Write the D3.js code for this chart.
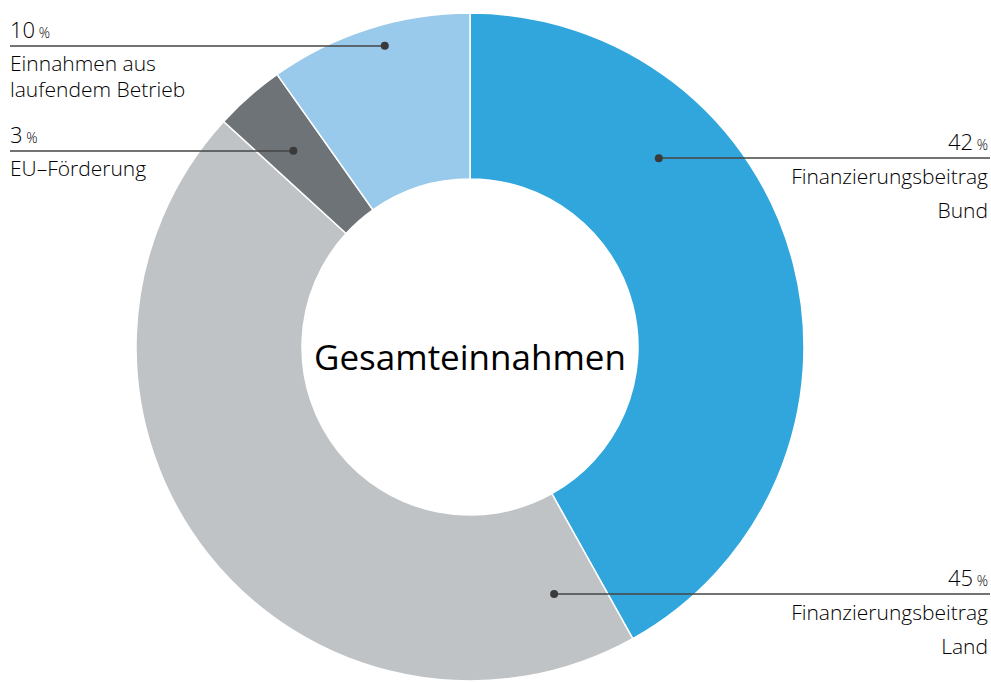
<!DOCTYPE html>
<html>
<head>
<meta charset="utf-8">
<script src="https://cdn.jsdelivr.net/npm/d3@7"></script>
<style>
  body { margin: 0; background: #fff; }
  svg text { font-family: "Open Sans", "Segoe UI", sans-serif; font-weight: 300; fill: #000; }
</style>
</head>
<body>
<svg width="991" height="682"></svg>
<script>
const categories = ['Finanzierungsbeitrag Bund', 'Finanzierungsbeitrag Land', 'EU–Förderung', 'Einnahmen aus laufendem Betrieb'];
// slice shares; labels show them rounded
const values = [41.9, 44.9, 3.4, 9.8];
const colors = ['#31a6dc', '#c0c3c5', '#6e7377', '#9acaeb'];
const labelLines = [['Finanzierungsbeitrag', 'Bund'], ['Finanzierungsbeitrag', 'Land'], ['EU–Förderung'], ['Einnahmen aus', 'laufendem Betrieb']];

// where the leader dot sits (degrees from top, radius) and which side the text goes
const anchors = [
  { angle: 45, r: 267, side: 'right', y: 158 },
  { angle: 161.2, r: 261, side: 'right', y: 594 },
  { angle: 318, r: 264, side: 'left', y: 151 },
  { angle: 344.2, r: 313, side: 'left', y: 46 }
];

const width = 991, height = 682;
const cx = 470, cy = 347;
const outer = 334, inner = 168;

const svg = d3.select('svg');
const g = svg.append('g').attr('transform', `translate(${cx},${cy})`);

const pie = d3.pie().sort(null).value(d => d)(values);
const arc = d3.arc().innerRadius(inner).outerRadius(outer);

g.selectAll('path')
  .data(pie)
  .enter().append('path')
  .attr('d', arc)
  .attr('fill', (d, i) => colors[i])
  .attr('stroke', '#fff')
  .attr('stroke-width', 1.5);

g.append('text')
  .attr('x', 0)
  .attr('y', 23)
  .attr('text-anchor', 'middle')
  .style('font-size', '35px')
  .style('font-weight', 400)
  .text('Gesamteinnahmen');

const labels = svg.selectAll('.label')
  .data(anchors)
  .enter().append('g')
  .attr('class', 'label');

labels.each(function(a, i) {
  const sel = d3.select(this);
  const rad = a.angle * Math.PI / 180;
  const dx = cx + a.r * Math.sin(rad);
  const dy = cy - a.r * Math.cos(rad);
  const x0 = a.side === 'right' ? 990 : 10;
  const tx = a.side === 'right' ? 988 : 10;
  const anchor = a.side === 'right' ? 'end' : 'start';

  sel.append('line')
    .attr('x1', dx).attr('y1', a.y)
    .attr('x2', x0).attr('y2', a.y)
    .attr('stroke', '#444')
    .attr('stroke-width', 1.5);
  sel.append('circle')
    .attr('cx', dx).attr('cy', dy)
    .attr('r', 4)
    .attr('fill', '#3a3a3a');

  const pct = sel.append('text')
    .attr('x', tx)
    .attr('y', a.y - 8)
    .attr('text-anchor', anchor);
  pct.append('tspan').style('font-size', '22px').text(Math.round(values[i]));
  pct.append('tspan').style('font-size', '14px').text(' %');

  labelLines[i].forEach((line, j) => {
    sel.append('text')
      .attr('x', tx)
      .attr('y', a.y + (a.side === 'right' ? 26 : 25) + j * (a.side === 'right' ? 34 : 26))
      .attr('text-anchor', anchor)
      .style('font-size', '21px')
      .text(line);
  });
});
</script>
</body>
</html>
